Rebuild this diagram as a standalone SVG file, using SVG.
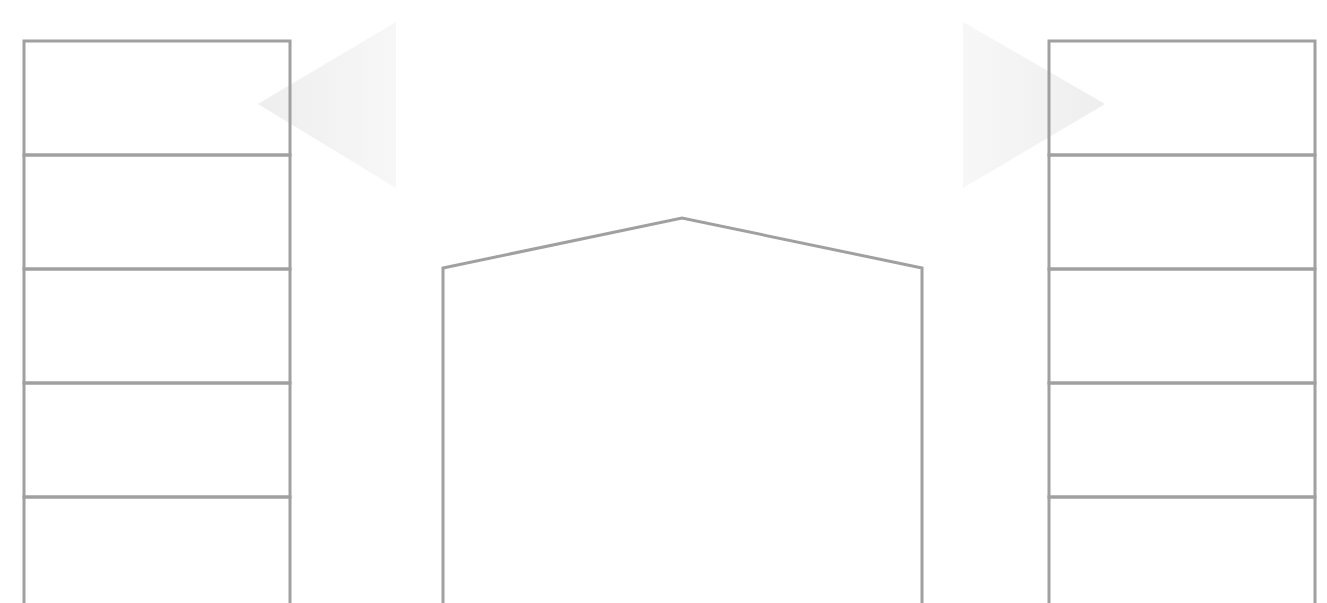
<svg xmlns="http://www.w3.org/2000/svg" width="1327" height="603" viewBox="0 0 1327 603">
  <style>
    .cell { fill: none; stroke: #a0a0a0; stroke-width: 3; }
    .house { fill: none; stroke: #a0a0a0; stroke-width: 3; stroke-linejoin: miter; }
  </style>
  <defs>
    <linearGradient id="gLeft" x1="0" y1="0" x2="1" y2="0">
      <stop offset="0" stop-color="#eeeeee"/>
      <stop offset="1" stop-color="#f7f7f7"/>
    </linearGradient>
    <linearGradient id="gRight" x1="0" y1="0" x2="1" y2="0">
      <stop offset="0" stop-color="#f7f7f7"/>
      <stop offset="1" stop-color="#eeeeee"/>
    </linearGradient>
  </defs>
  <rect width="1327" height="603" fill="#ffffff"/>
  <g id="arrow-left">
    <polygon points="258,104 396,22 396,188" fill="url(#gLeft)"/>
  </g>
  <g id="arrow-right">
    <polygon points="1105,104 963,22 963,188" fill="url(#gRight)"/>
  </g>
  <g id="stack-left">
    <rect class="cell" x="24" y="41" width="266" height="114"/>
    <rect class="cell" x="24" y="155" width="266" height="114"/>
    <rect class="cell" x="24" y="269" width="266" height="114"/>
    <rect class="cell" x="24" y="383" width="266" height="114"/>
    <rect class="cell" x="24" y="497" width="266" height="114"/>
  </g>
  <g id="stack-right">
    <rect class="cell" x="1049" y="41" width="266" height="114"/>
    <rect class="cell" x="1049" y="155" width="266" height="114"/>
    <rect class="cell" x="1049" y="269" width="266" height="114"/>
    <rect class="cell" x="1049" y="383" width="266" height="114"/>
    <rect class="cell" x="1049" y="497" width="266" height="114"/>
  </g>
  <g id="house">
    <polyline class="house" points="443,610 443,268 682,218 922,268 922,610"/>
  </g>
  <g id="connectors"></g>
</svg>
